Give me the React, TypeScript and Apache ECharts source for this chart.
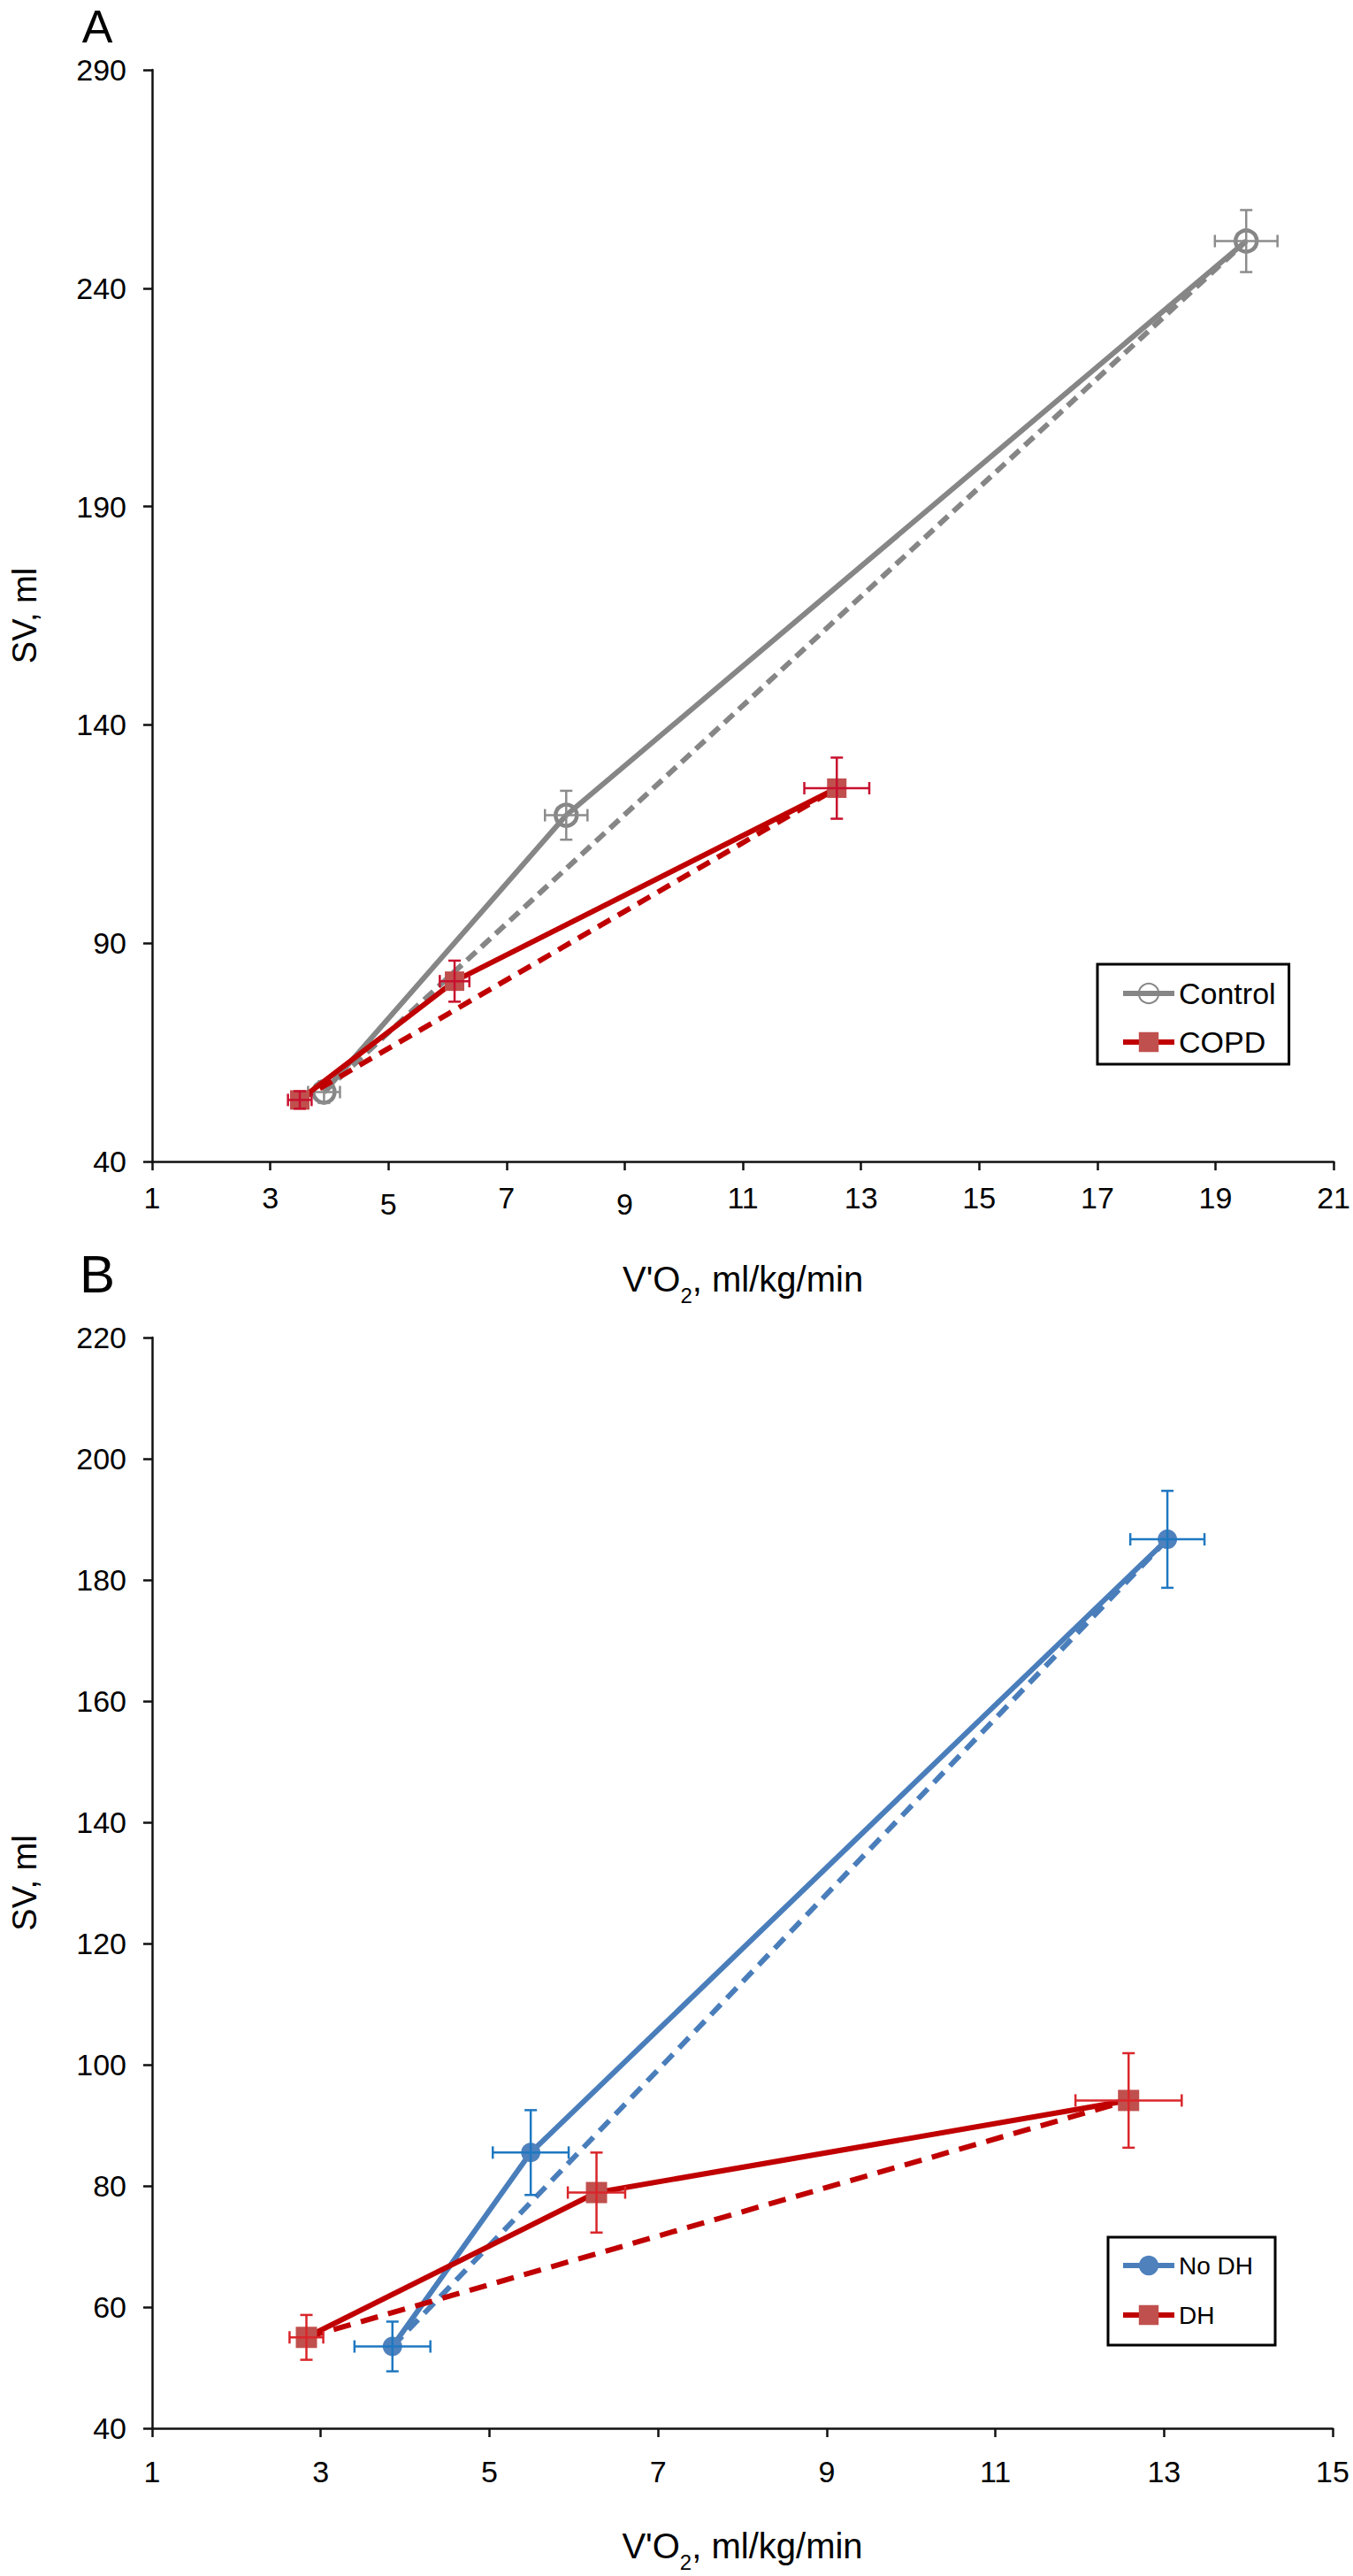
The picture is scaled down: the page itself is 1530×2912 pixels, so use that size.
import React, { useEffect, useRef } from "react";
import * as echarts from "echarts";

// ---------- Tick labels ----------
const xTicksA = [1, 3, 5, 7, 9, 11, 13, 15, 17, 19, 21];
const xTicksALowered = [5, 9];
const yTicksA = [40, 90, 140, 190, 240, 290];
const xTicksB = [1, 3, 5, 7, 9, 11, 13, 15];
const yTicksB = [40, 60, 80, 100, 120, 140, 160, 180, 200, 220];

// ---------- Panel A ----------
const controlX = [3.91, 8.01, 19.52];
const controlY = [55.9, 119.3, 250.8];
const controlXErr = [0.27, 0.36, 0.53];
const controlYErr = [2.5, 5.6, 7.1];

const copdX = [3.5, 6.12, 12.59];
const copdY = [54.1, 81.3, 125.5];
const copdXErr = [0.2, 0.25, 0.55];
const copdYErr = [2.0, 4.7, 7.0];

// ---------- Panel B ----------
const noDhX = [3.85, 5.49, 13.04];
const noDhY = [53.5, 85.5, 186.7];
const noDhXErr = [0.45, 0.45, 0.44];
const noDhYErr = [4.1, 7.0, 8.0];

const dhX = [2.83, 6.27, 12.58];
const dhY = [55.0, 78.9, 94.1];
const dhXErr = [0.2, 0.34, 0.63];
const dhYErr = [3.7, 6.6, 7.8];

const FONT = "'Liberation Sans', Arial, Helvetica, sans-serif";

function points(xs: number[], ys: number[]) {
  return xs.map((x, i) => [x, ys[i]]);
}
function ends(xs: number[], ys: number[]) {
  const n = xs.length - 1;
  return [
    [xs[0], ys[0]],
    [xs[n], ys[n]],
  ];
}
function errData(xs: number[], ys: number[], xe: number[], ye: number[]) {
  return xs.map((x, i) => [x, ys[i], xe[i], ye[i]]);
}

function errorBarRender(color: string, cap: number) {
  return (_params: any, api: any) => {
    const x = api.value(0);
    const y = api.value(1);
    const ex = api.value(2);
    const ey = api.value(3);
    const c = api.coord([x, y]);
    const l = api.coord([x - ex, y]);
    const r = api.coord([x + ex, y]);
    const t = api.coord([x, y + ey]);
    const b = api.coord([x, y - ey]);
    const style = { stroke: color, lineWidth: 2.5 };
    return {
      type: "group",
      children: [
        { type: "line", shape: { x1: l[0], y1: c[1], x2: r[0], y2: c[1] }, style },
        { type: "line", shape: { x1: l[0], y1: c[1] - cap, x2: l[0], y2: c[1] + cap }, style },
        { type: "line", shape: { x1: r[0], y1: c[1] - cap, x2: r[0], y2: c[1] + cap }, style },
        { type: "line", shape: { x1: c[0], y1: t[1], x2: c[0], y2: b[1] }, style },
        { type: "line", shape: { x1: c[0] - cap, y1: t[1], x2: c[0] + cap, y2: t[1] }, style },
        { type: "line", shape: { x1: c[0] - cap, y1: b[1], x2: c[0] + cap, y2: b[1] }, style },
      ],
    };
  };
}

function makeXAxis(
  grid: number,
  min: number,
  max: number,
  ticks: number[],
  margin: number,
  lowered: number[]
) {
  return {
    type: "value",
    gridIndex: grid,
    min,
    max,
    axisLine: { show: true, onZero: false, lineStyle: { color: "#111", width: 2.5 } },
    axisTick: { show: true, length: 10, customValues: ticks, lineStyle: { color: "#111", width: 2.5 } },
    axisLabel: {
      customValues: ticks,
      fontSize: 34,
      color: "#000",
      margin,
      fontFamily: FONT,
      formatter: (v: number) => (lowered.indexOf(v) >= 0 ? `{low|${v}}` : `${v}`),
      rich: {
        low: { fontSize: 34, color: "#000", fontFamily: FONT, padding: [7, 0, 0, 0] },
      },
    },
    splitLine: { show: false },
    name: "{n|V'O}{s|2}{n|, ml/kg/min}",
    nameLocation: "middle",
    nameGap: 103,
    nameTextStyle: {
      fontFamily: FONT,
      color: "#000",
      rich: {
        n: { fontSize: 40, lineHeight: 60, fontFamily: FONT, color: "#000" },
        s: { fontSize: 24, lineHeight: 20, verticalAlign: "bottom", fontFamily: FONT, color: "#000" },
      },
    },
  };
}

function makeYAxis(grid: number, min: number, max: number, ticks: number[]) {
  return {
    type: "value",
    gridIndex: grid,
    min,
    max,
    axisLine: { show: true, onZero: false, lineStyle: { color: "#111", width: 2.5 } },
    axisTick: { show: true, length: 10, customValues: ticks, lineStyle: { color: "#111", width: 2.5 } },
    axisLabel: { customValues: ticks, fontSize: 34, color: "#000", margin: 29, fontFamily: FONT },
    splitLine: { show: false },
    name: "SV, ml",
    nameLocation: "middle",
    nameGap: 124,
    nameTextStyle: { fontSize: 38, lineHeight: 40, color: "#000", fontFamily: FONT },
  };
}

export default function App() {
  const ref = useRef<HTMLDivElement>(null);

  useEffect(() => {
    document.body.style.margin = "0";
    if (!ref.current) return;
    const chart = echarts.init(ref.current, undefined, { renderer: "svg" });

    const gray = "#868686";
    const red = "#c00000";
    const redMarker = "#c0504d";
    const blue = "#4a7ebb";
    const blueMarker = "#4f81bd";
    const LW = 6;

    const option: any = {
      animation: false,
      backgroundColor: "#fff",
      textStyle: { fontFamily: FONT },
      grid: [
        { left: 166, top: 79, width: 1343, height: 1234 },
        { left: 166, top: 1512, width: 1341, height: 1233 },
      ],
      xAxis: [
        makeXAxis(0, 1, 21, xTicksA, 24, xTicksALowered),
        makeXAxis(1, 1, 15, xTicksB, 32, []),
      ],
      yAxis: [makeYAxis(0, 40, 290, yTicksA), makeYAxis(1, 40, 220, yTicksB)],
      legend: [
        {
          data: ["Control", "COPD"],
          orient: "vertical",
          left: 1241,
          top: 1090,
          padding: [13, 15, 5, 26],
          itemGap: 15,
          itemWidth: 58,
          itemHeight: 28,
          borderColor: "#000",
          borderWidth: 3,
          backgroundColor: "#fff",
          lineStyle: { width: LW },
          textStyle: { fontSize: 34, lineHeight: 40, color: "#000", fontFamily: FONT },
        },
        {
          data: ["No DH", "DH"],
          orient: "vertical",
          left: 1253,
          top: 2529,
          padding: [15, 25, 17, 14],
          itemGap: 22,
          itemWidth: 58,
          itemHeight: 28,
          borderColor: "#000",
          borderWidth: 3,
          backgroundColor: "#fff",
          lineStyle: { width: LW },
          textStyle: { fontSize: 28, lineHeight: 34, color: "#000", fontFamily: FONT },
        },
      ],
      graphic: [
        {
          type: "text",
          x: 110,
          y: 30,
          style: {
            text: "A",
            font: `52px ${FONT}`,
            fill: "#000",
            textAlign: "center",
            textVerticalAlign: "middle",
            align: "center",
            verticalAlign: "middle",
          },
        },
        {
          type: "text",
          x: 110,
          y: 1440,
          style: {
            text: "B",
            font: `60px ${FONT}`,
            fill: "#000",
            textAlign: "center",
            textVerticalAlign: "middle",
            align: "center",
            verticalAlign: "middle",
          },
        },
      ],
      series: [
        // ---- Panel A ----
        {
          name: "Control trend",
          type: "line",
          xAxisIndex: 0,
          yAxisIndex: 0,
          data: ends(controlX, controlY),
          symbol: "none",
          lineStyle: { color: gray, width: LW, type: [14, 8] },
          z: 2,
        },
        {
          name: "Control",
          type: "line",
          xAxisIndex: 0,
          yAxisIndex: 0,
          data: points(controlX, controlY),
          symbol: "circle",
          symbolSize: 24,
          lineStyle: { color: gray, width: LW },
          itemStyle: { color: "rgba(255,255,255,0)", borderColor: gray, borderWidth: 4.5 },
          z: 3,
        },
        {
          name: "Control err",
          type: "custom",
          xAxisIndex: 0,
          yAxisIndex: 0,
          data: errData(controlX, controlY, controlXErr, controlYErr),
          renderItem: errorBarRender("#8c8c8c", 7),
          z: 4,
        },
        {
          name: "COPD trend",
          type: "line",
          xAxisIndex: 0,
          yAxisIndex: 0,
          data: ends(copdX, copdY),
          symbol: "none",
          lineStyle: { color: red, width: LW, type: [16, 10] },
          z: 5,
        },
        {
          name: "COPD",
          type: "line",
          xAxisIndex: 0,
          yAxisIndex: 0,
          data: points(copdX, copdY),
          symbol: "rect",
          symbolSize: 22,
          lineStyle: { color: red, width: LW },
          itemStyle: { color: redMarker },
          z: 6,
        },
        {
          name: "COPD err",
          type: "custom",
          xAxisIndex: 0,
          yAxisIndex: 0,
          data: errData(copdX, copdY, copdXErr, copdYErr),
          renderItem: errorBarRender("#c8102e", 7),
          z: 7,
        },
        // ---- Panel B ----
        {
          name: "No DH trend",
          type: "line",
          xAxisIndex: 1,
          yAxisIndex: 1,
          data: ends(noDhX, noDhY),
          symbol: "none",
          lineStyle: { color: blue, width: LW, type: [16, 10] },
          z: 2,
        },
        {
          name: "No DH",
          type: "line",
          xAxisIndex: 1,
          yAxisIndex: 1,
          data: points(noDhX, noDhY),
          symbol: "circle",
          symbolSize: 22,
          lineStyle: { color: blue, width: LW },
          itemStyle: { color: blueMarker },
          z: 3,
        },
        {
          name: "No DH err",
          type: "custom",
          xAxisIndex: 1,
          yAxisIndex: 1,
          data: errData(noDhX, noDhY, noDhXErr, noDhYErr),
          renderItem: errorBarRender("#1f78c1", 7),
          z: 4,
        },
        {
          name: "DH trend",
          type: "line",
          xAxisIndex: 1,
          yAxisIndex: 1,
          data: ends(dhX, dhY),
          symbol: "none",
          lineStyle: { color: red, width: LW, type: [20, 12] },
          z: 5,
        },
        {
          name: "DH",
          type: "line",
          xAxisIndex: 1,
          yAxisIndex: 1,
          data: points(dhX, dhY),
          symbol: "rect",
          symbolSize: 24,
          lineStyle: { color: red, width: LW },
          itemStyle: { color: redMarker },
          z: 6,
        },
        {
          name: "DH err",
          type: "custom",
          xAxisIndex: 1,
          yAxisIndex: 1,
          data: errData(dhX, dhY, dhXErr, dhYErr),
          renderItem: errorBarRender("#d9262b", 7),
          z: 7,
        },
      ],
    };

    chart.setOption(option);
    return () => {
      chart.dispose();
    };
  }, []);

  return <div ref={ref} style={{ width: 1530, height: 2912 }} />;
}
